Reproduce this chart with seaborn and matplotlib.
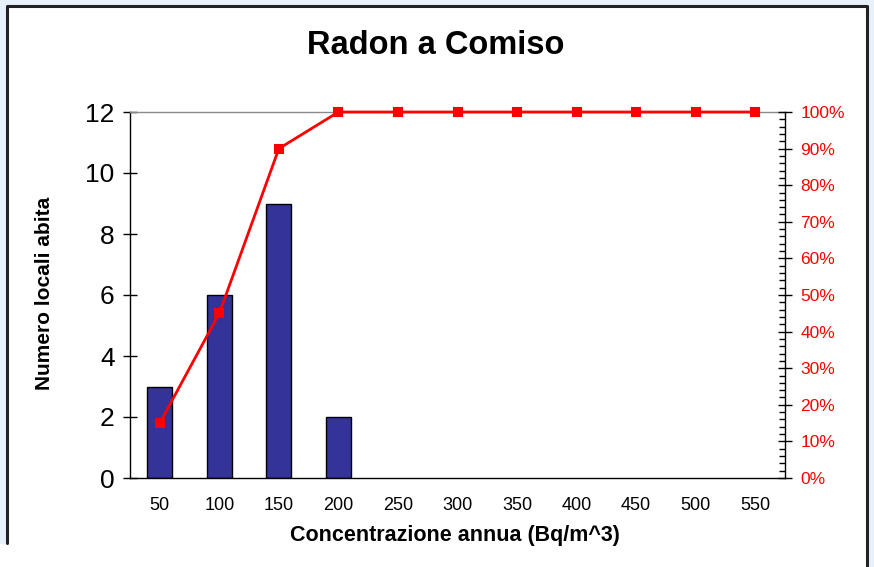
import numpy as np
import matplotlib
matplotlib.use("Agg")
import matplotlib.pyplot as plt
import seaborn as sns
import pandas as pd
from matplotlib.patches import Rectangle
from matplotlib.lines import Line2D
from matplotlib.ticker import MultipleLocator, PercentFormatter

# data
classi = ["50", "100", "150", "200", "250", "300", "350", "400", "450", "500", "550"]
conteggi = [3, 6, 9, 2, 0, 0, 0, 0, 0, 0, 0]
cumulata = [15, 45, 90, 100, 100, 100, 100, 100, 100, 100, 100]

df = pd.DataFrame({"classe": classi, "n": conteggi, "cum": np.array(cumulata) / 100})

sns.set_style("white")
plt.rcParams["font.family"] = ["Liberation Sans", "DejaVu Sans"]
plt.rcParams["text.color"] = "black"
plt.rcParams["xtick.color"] = "black"
plt.rcParams["ytick.color"] = "black"

W, H = 874, 567
fig = plt.figure(figsize=(W / 100, H / 100), dpi=100)
fig.patch.set_facecolor("white")

# slide background strips and chart frame
bg = "#e6f1fb"
fig.patches.append(Rectangle((0, 1 - 543 / H), 7 / W, 543 / H, transform=fig.transFigure, color=bg, zorder=0))
fig.patches.append(Rectangle((0, 1 - 6 / H), 1, 6 / H, transform=fig.transFigure, color=bg, zorder=0))
fig.patches.append(Rectangle((867 / W, 0), 7 / W, 1, transform=fig.transFigure, color=bg, zorder=0))
fig.lines.append(Line2D([7 / W, 7 / W, 867 / W, 867 / W], [1 - 543 / H, 1 - 6 / H, 1 - 6 / H, 0],
                        transform=fig.transFigure, color="#222222", lw=2.2))

ax = fig.add_axes([130 / W, (H - 478) / H, (785 - 130) / W, (478 - 112) / H])
ax.set_facecolor("white")

sns.barplot(data=df, x="classe", y="n", order=classi, color="#333399", edgecolor="black",
            linewidth=1, width=0.42, saturation=1, ax=ax)
for p in ax.patches:
    if p.get_height() == 0:
        p.set_visible(False)
ax.set_ylim(0, 12)
ax.set_xlim(-0.5, len(classi) - 0.5)
ax.set_yticks(range(0, 13, 2))
ax.set_xlabel("")
ax.set_ylabel("")
ax.set_xticks(np.arange(len(classi)))
ax.set_xticklabels(classi)
ax.tick_params(axis="x", length=0, pad=14, labelsize=13, labelcolor="black")
ax.set_xticks(np.arange(len(classi) + 1) - 0.5, minor=True)
ax.tick_params(axis="x", which="minor", direction="out", length=6, width=1, color="black")
ax.tick_params(axis="y", direction="inout", length=10, width=1, color="black", labelsize=19, pad=6,
               labelcolor="black")
for s in ["left", "bottom"]:
    ax.spines[s].set_color("black")
    ax.spines[s].set_linewidth(1)
ax.spines["top"].set_color("#8a8a8a")
ax.spines["top"].set_linewidth(1)
ax.spines["right"].set_visible(False)

ax2 = ax.twinx()
sns.pointplot(data=df, x="classe", y="cum", order=classi, color="red", markers="s",
              linestyles="-", markersize=6, linewidth=2, ax=ax2)
for art in ax2.lines + ax2.collections:
    art.set_clip_on(False)
ax2.set_ylim(0, 1)
ax2.set_xlim(-0.5, len(classi) - 0.5)
ax2.set_ylabel("")
ax2.set_xlabel("")
ax2.yaxis.set_major_locator(MultipleLocator(0.1))
ax2.yaxis.set_minor_locator(MultipleLocator(0.02))
ax2.yaxis.set_major_formatter(PercentFormatter(1.0, decimals=0))
ax2.tick_params(axis="y", which="major", direction="inout", length=10, width=1, color="black",
                labelcolor="red", labelsize=12.5, pad=6)
ax2.tick_params(axis="y", which="minor", direction="in", length=4, width=1, color="black")
ax2.spines["right"].set_color("black")
ax2.spines["right"].set_linewidth(1)
for s in ["top", "left", "bottom"]:
    ax2.spines[s].set_visible(False)

fig.text(436 / W, 1 - 45 / H, "Radon a Comiso", ha="center", va="center", fontsize=23.5, fontweight="bold")
fig.text(455 / W, 1 - 535 / H, "Concentrazione annua (Bq/m^3)", ha="center", va="center",
         fontsize=15.5, fontweight="bold")
fig.text(45 / W, 1 - 293 / H, "Numero locali abita", ha="center", va="center", rotation=90,
         fontsize=15, fontweight="bold")

fig.savefig("out.png", dpi=100, facecolor=fig.get_facecolor())
